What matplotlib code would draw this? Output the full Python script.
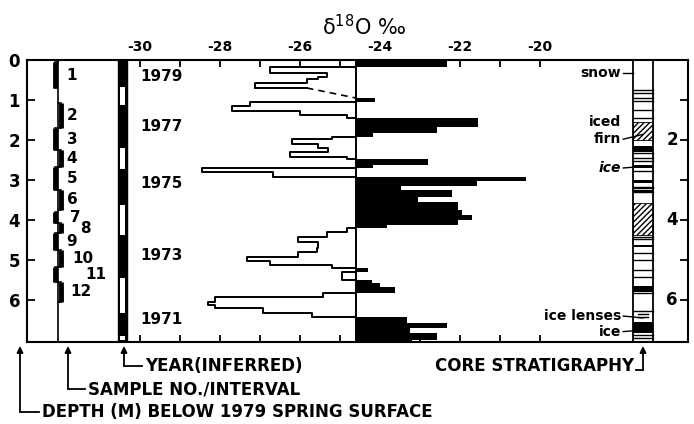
import matplotlib
matplotlib.use("agg")
import matplotlib.pyplot as plt
from matplotlib.lines import Line2D
from matplotlib.patches import Rectangle
import numpy as np

nan = np.nan

# delta-18O profile: segment edges (m) and values (per mil); nan = missing
depth_edges = [0.00, 0.17, 0.33, 0.42, 0.48, 0.57, 0.70, 0.95, 1.06, 1.14,
               1.28, 1.38, 1.46, 1.68, 1.83, 1.92, 1.98, 2.11, 2.21, 2.31,
               2.42, 2.48, 2.62, 2.69, 2.79, 2.92, 3.02, 3.15, 3.25, 3.42,
               3.54, 3.75, 3.88, 4.00, 4.12, 4.21, 4.29, 4.42, 4.54, 4.71,
               4.79, 4.92, 5.02, 5.12, 5.19, 5.30, 5.50, 5.58, 5.67, 5.83,
               5.92, 6.04, 6.12, 6.21, 6.33, 6.42, 6.58, 6.71, 6.83, 7.00, 7.05]
d18o = [-22.33, -26.75, -25.33, -25.54, -25.83, -27.12, nan, -24.12, -27.25, -27.71,
        -26.00, -24.83, -21.55, -22.58, -24.17, -25.21, -26.21, -25.54, -25.30, -26.25,
        -24.83, -22.80, -24.17, -28.46, -26.67, -20.35, -21.58, -23.48, -22.20, -23.05,
        -22.05, -21.96, -21.70, -22.05, -23.83, -24.83, -25.33, -26.04, -25.54, -25.58,
        -26.04, -27.33, -26.75, -25.21, -24.29, -24.95, -24.20, -24.00, -23.63, -25.42,
        -28.13, -28.29, -28.13, -26.92, -25.71, -23.33, -22.33, -23.25, -22.58, -23.20]
mean_d18o = -24.6
gap_start = -25.83   # where the dashed interpolation leaves the profile

# samples
sample_top = [0.05, 1.07, 1.70, 2.25, 2.67, 3.25, 3.80, 4.08, 4.33, 4.75, 5.17, 5.55]
sample_bot = [0.70, 1.70, 2.25, 2.67, 3.25, 3.75, 4.08, 4.33, 4.75, 5.17, 5.55, 6.05]

# inferred years
year_white = [(0.67, 1.12), (2.20, 2.72), (3.62, 4.37), (5.45, 6.33), (6.90, 7.00)]
years = ["1979", "1977", "1975", "1973", "1971"]
year_depth = [0.42, 1.67, 3.08, 4.90, 6.50]

# core stratigraphy
strat_lines = [0.75, 0.83, 0.96, 1.02, 1.25, 1.46, 2.33, 2.46, 2.52, 2.77,
               3.17, 3.21, 3.29, 4.42, 4.48, 4.83, 5.00, 5.25, 5.43, 5.83,
               6.27, 6.88, 6.96]
strat_ice = [(2.15, 2.29), (2.62, 2.71), (3.00, 3.08), (3.25, 3.31), (4.62, 4.68),
             (5.65, 5.79), (6.54, 6.83)]
strat_firn = [(1.54, 2.00), (3.58, 4.37)]
strat_lenses = [6.35, 6.43]

top_ticks = list(range(-30, -19))
depth_ticks = list(range(0, 7))

W, H = 694, 424
D_MAX = 7.05

plt.rcParams['mathtext.default'] = 'regular'
fig = plt.figure(figsize=(W / 100, H / 100), dpi=100)
ax = fig.add_axes([27 / W, 1 - 342 / H, 661 / W, 282 / H])
ax.set_xlim(-32.825, -16.3)
ax.set_ylim(D_MAX, 0)
ax.set_axisbelow(True)
for s in ax.spines.values():
    s.set_linewidth(1.5)

# --- delta-18O panel
edges = np.array(depth_edges)
vals = np.array(d18o)
top, bot = edges[:-1], edges[1:]
pos = vals > mean_d18o
ax.barh(top[pos], vals[pos] - mean_d18o, height=(bot - top)[pos],
        left=mean_d18o, align='edge', color='k', lw=0, zorder=2)

xs, ys = [], []
for t, b, v in zip(top, bot, vals):
    if np.isnan(v):
        xs.append(nan)
        ys.append(nan)
        continue
    x = min(v, mean_d18o)
    xs += [x, x]
    ys += [t, b]
ax.plot(xs, ys, color='k', lw=1.4, zorder=3)
gi = int(np.where(np.isnan(vals))[0][0])
ax.plot([vals[gi - 1], gap_start], [edges[gi], edges[gi]], color='k', lw=1.4, zorder=3)
ax.plot([gap_start, mean_d18o], [edges[gi], edges[gi + 1]], color='k', lw=1.2,
        ls=(0, (4, 3)), zorder=3)
ax.plot([mean_d18o, mean_d18o], [0, D_MAX], color='k', lw=1.4, zorder=3)

ax.set_xticks(top_ticks)
ax.set_xticklabels([str(t) if t % 2 == 0 else '' for t in top_ticks],
                   fontsize=10, fontweight='bold')
ax.tick_params(axis='x', top=True, bottom=True, labeltop=True, labelbottom=False,
               direction='in', length=5, width=1.3, pad=4)
ax.set_yticks(depth_ticks)
ax.set_yticklabels([str(d) for d in depth_ticks], fontsize=12, fontweight='bold')
ax.tick_params(axis='y', left=True, right=True, direction='in', length=6,
               width=1.3, pad=5)

trans = ax.get_yaxis_transform()

# right-hand depth labels, inside the frame
for d in (2, 4, 6):
    ax.text(0.976, d, str(d), transform=trans, ha='center', va='center',
            fontsize=12, fontweight='bold')

# --- sample column
xs_line = 0.0469
ax.plot([xs_line, xs_line], [0, D_MAX], transform=trans, color='k', lw=1.2)
label_dx = [0, 0, 0, 0, 0, 0, 0.005, 0.02, 0, 0.008, 0.028, 0.005]
for i, (t, b) in enumerate(zip(sample_top, sample_bot)):
    xo = 0.0418 if i % 2 == 0 else 0.0512
    ax.plot([xo, xo], [t, b], transform=trans, color='k', lw=3.5,
            solid_capstyle='butt')
    ax.plot([xs_line, xo], [t, t], transform=trans, color='k', lw=1.2)
    ax.plot([xs_line, xo], [b, b], transform=trans, color='k', lw=1.2)
    ax.text(0.060 + label_dx[i], (t + b) / 2, str(i + 1), transform=trans,
            ha='left', va='center', fontsize=11, fontweight='bold')

# --- year column
yb0, yb1 = 0.1377, 0.1513
ax.add_patch(Rectangle((yb0, 0), yb1 - yb0, D_MAX, transform=trans,
                       facecolor='k', edgecolor='k', lw=1))
for t, b in year_white:
    ax.add_patch(Rectangle((yb0 + 0.003, t), yb1 - yb0 - 0.006, b - t,
                           transform=trans, facecolor='white', lw=0))
for y, d in zip(years, year_depth):
    ax.text(0.172, d, y, transform=trans, ha='left', va='center',
            fontsize=11, fontweight='bold')

# --- stratigraphy column
sc0, sc1 = 0.9168, 0.947
for t, b in strat_firn:
    ax.add_patch(Rectangle((sc0, t), sc1 - sc0, b - t, transform=trans,
                           facecolor='white', edgecolor='k', hatch='//////', lw=0.6))
for t, b in strat_ice:
    ax.add_patch(Rectangle((sc0, t), sc1 - sc0, b - t, transform=trans,
                           facecolor='k', lw=0))
for d in strat_lines:
    ax.plot([sc0, sc1], [d, d], transform=trans, color='k', lw=1.0)
for d in strat_lenses:
    ax.plot([sc0 + 0.008, sc0 + 0.022], [d, d], transform=trans, color='k', lw=1.0)
ax.add_patch(Rectangle((sc0, 0), sc1 - sc0, D_MAX, transform=trans,
                       fill=False, edgecolor='k', lw=1.3))

lab_x = 0.899
strat_labels = [("snow", 0.33, 'normal', 0.33), ("iced", 1.54, 'normal', None),
                ("firn", 1.98, 'normal', 1.86), ("ice", 2.70, 'italic', 2.68),
                ("ice lenses", 6.40, 'normal', 6.45), ("ice", 6.79, 'normal', 6.77)]
for txt, d, style, lead in strat_labels:
    ax.text(lab_x, d, txt, transform=trans, ha='right', va='center',
            fontsize=10, fontweight='bold', style=style)
    if lead is not None:
        x_end = sc0 + (0.015 if txt in ("firn", "ice lenses") else 0)
        ax.plot([lab_x + 0.003, x_end], [d, lead], transform=trans, color='k', lw=1.0)

# --- title
fig.text(364 / W, 1 - 27 / H, r'$\delta^{18}$O ‰', ha='center', va='center',
         fontsize=15)

# --- bottom call-outs
def fx(x):
    return x / W


def fy(y):
    return 1 - y / H


def callout(x_tip, y_row, x_text, label):
    ax.annotate('', xy=(fx(x_tip), fy(346)), xytext=(fx(x_tip), fy(y_row)),
                xycoords='figure fraction',
                arrowprops=dict(arrowstyle='-|>', color='k', lw=1.3,
                                mutation_scale=9, shrinkA=0, shrinkB=0))
    fig.add_artist(Line2D([fx(x_tip), fx(x_text - 3)], [fy(y_row), fy(y_row)],
                          transform=fig.transFigure, color='k', lw=1.3))
    fig.text(fx(x_text), fy(y_row), label, ha='left', va='center',
             fontsize=12, fontweight='bold')


callout(20, 412, 42, "DEPTH (M) BELOW 1979 SPRING SURFACE")
callout(68, 389, 88, "SAMPLE NO./INTERVAL")
callout(124, 366, 145, "YEAR(INFERRED)")

fig.text(fx(634), fy(366), "CORE STRATIGRAPHY", ha='right', va='center',
         fontsize=12, fontweight='bold')
ax.annotate('', xy=(fx(643), fy(346)), xytext=(fx(643), fy(370)),
            xycoords='figure fraction',
            arrowprops=dict(arrowstyle='-|>', color='k', lw=1.3,
                            mutation_scale=9, shrinkA=0, shrinkB=0))
fig.add_artist(Line2D([fx(636), fx(643)], [fy(370), fy(370)],
                      transform=fig.transFigure, color='k', lw=1.3))

fig.savefig("out.png", dpi=100)
